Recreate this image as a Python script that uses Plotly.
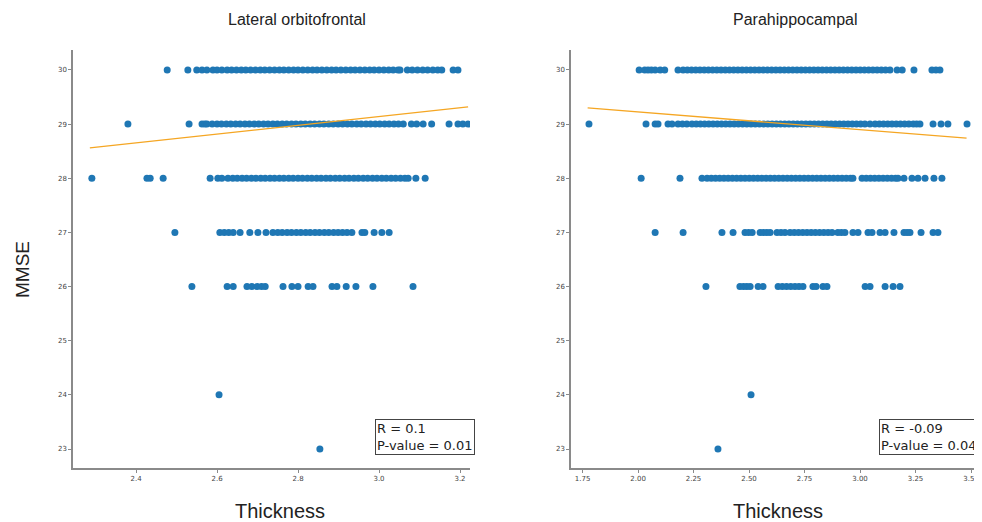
import plotly.graph_objects as go

# ---------------- data ----------------
panel_titles = ["Lateral orbitofrontal", "Parahippocampal"]
mmse_levels = [30, 29, 28, 27, 26, 24, 23]

lat_30 = [2.477, 2.528, 2.55, 2.563, 2.575, 2.59, 2.60, 2.612, 2.625, 2.636, 2.648, 2.66, 2.671, 2.683, 2.695,
          2.707, 2.718, 2.73, 2.742, 2.754, 2.765, 2.777, 2.789, 2.80, 2.812, 2.824, 2.836, 2.847, 2.859, 2.871,
          2.883, 2.894, 2.906, 2.918, 2.93, 2.941, 2.953, 2.965, 2.977, 2.988, 3.0, 3.012, 3.024, 3.035, 3.047,
          3.052, 3.07, 3.082, 3.095, 3.108, 3.12, 3.133, 3.145, 3.155, 3.183, 3.195]
lat_29 = [2.38, 2.531, 2.563, 2.57, 2.575, 2.588, 2.60, 2.611, 2.623, 2.634, 2.646, 2.657, 2.669, 2.68, 2.692,
          2.703, 2.715, 2.726, 2.738, 2.749, 2.761, 2.772, 2.784, 2.795, 2.807, 2.818, 2.83, 2.841, 2.853, 2.864,
          2.876, 2.887, 2.899, 2.91, 2.922, 2.933, 2.945, 2.956, 2.968, 2.979, 2.991, 3.002, 3.014, 3.025, 3.037,
          3.048, 3.06, 3.08, 3.093, 3.109, 3.13, 3.173, 3.195, 3.207, 3.22]
lat_28 = [2.291, 2.427, 2.435, 2.467, 2.583, 2.602, 2.612, 2.627, 2.639, 2.65, 2.662, 2.673, 2.685, 2.696, 2.708,
          2.719, 2.731, 2.742, 2.754, 2.765, 2.777, 2.788, 2.80, 2.811, 2.823, 2.834, 2.846, 2.857, 2.869, 2.88,
          2.892, 2.903, 2.915, 2.926, 2.938, 2.949, 2.961, 2.972, 2.984, 2.995, 3.007, 3.018, 3.03, 3.041, 3.053,
          3.064, 3.072, 3.091, 3.114]
lat_27 = [2.496, 2.607, 2.618, 2.629, 2.64, 2.657, 2.681, 2.701, 2.721, 2.738, 2.75, 2.761, 2.773, 2.784, 2.796,
          2.807, 2.819, 2.83, 2.842, 2.853, 2.865, 2.876, 2.888, 2.899, 2.91, 2.921, 2.933, 2.958, 2.965, 2.988,
          3.007, 3.025]
lat_26 = [2.538, 2.625, 2.64, 2.674, 2.686, 2.699, 2.71, 2.719, 2.763, 2.785, 2.80, 2.825, 2.837, 2.884, 2.896,
          2.919, 2.943, 2.985, 3.084]
lat_24 = [2.605]
lat_23 = [2.854]

par_30 = [2.005, 2.03, 2.045, 2.06, 2.077, 2.1, 2.12, 2.18, 2.203, 2.222, 2.241, 2.26, 2.279, 2.298, 2.317, 2.336,
          2.355, 2.374, 2.393, 2.412, 2.431, 2.45, 2.469, 2.488, 2.507, 2.526, 2.545, 2.564, 2.583, 2.602, 2.621,
          2.64, 2.659, 2.678, 2.697, 2.716, 2.735, 2.754, 2.773, 2.792, 2.811, 2.83, 2.849, 2.868, 2.887, 2.906,
          2.925, 2.944, 2.963, 2.982, 3.001, 3.02, 3.039, 3.058, 3.077, 3.096, 3.115, 3.135, 3.167, 3.19, 3.243,
          3.324, 3.342, 3.36]
par_29 = [1.779, 2.036, 2.077, 2.09, 2.135, 2.153, 2.18, 2.2, 2.22, 2.243, 2.262, 2.281, 2.30, 2.319, 2.338, 2.357,
          2.376, 2.395, 2.414, 2.433, 2.452, 2.471, 2.49, 2.509, 2.528, 2.547, 2.566, 2.585, 2.604, 2.623, 2.642,
          2.661, 2.68, 2.699, 2.718, 2.737, 2.756, 2.775, 2.794, 2.813, 2.832, 2.851, 2.87, 2.889, 2.908, 2.927,
          2.946, 2.965, 2.984, 3.003, 3.022, 3.045, 3.068, 3.087, 3.106, 3.125, 3.144, 3.163, 3.182, 3.201, 3.22,
          3.24, 3.255, 3.27, 3.329, 3.365, 3.396, 3.482]
par_28 = [2.014, 2.189, 2.288, 2.311, 2.33, 2.349, 2.368, 2.387, 2.406, 2.425, 2.444, 2.463, 2.482, 2.501, 2.52,
          2.539, 2.558, 2.577, 2.596, 2.615, 2.634, 2.653, 2.672, 2.691, 2.71, 2.729, 2.748, 2.767, 2.786, 2.805,
          2.824, 2.843, 2.862, 2.881, 2.90, 2.919, 2.938, 2.957, 2.968, 3.009, 3.028, 3.047, 3.066, 3.085, 3.104,
          3.123, 3.142, 3.16, 3.171, 3.198, 3.234, 3.261, 3.293, 3.333, 3.369]
par_27 = [2.077, 2.203, 2.378, 2.428, 2.482, 2.498, 2.514, 2.55, 2.565, 2.58, 2.595, 2.626, 2.644, 2.662, 2.685,
          2.704, 2.723, 2.742, 2.761, 2.78, 2.799, 2.818, 2.837, 2.856, 2.874, 2.9, 2.916, 2.932, 2.968, 2.991,
          3.036, 3.054, 3.09, 3.113, 3.153, 3.198, 3.212, 3.225, 3.275, 3.329, 3.351]
par_26 = [2.306, 2.459, 2.475, 2.49, 2.505, 2.541, 2.563, 2.631, 2.65, 2.669, 2.688, 2.707, 2.725, 2.743, 2.788,
          2.802, 2.833, 2.851, 3.023, 3.045, 3.113, 3.149, 3.18]
par_24 = [2.509]
par_23 = [2.36]

lat_fit_x = [2.286, 3.22]
lat_fit_y = [28.56, 29.32]
par_fit_x = [1.773, 3.48]
par_fit_y = [29.30, 28.74]

stats_text = ["R = 0.1<br>P-value = 0.01", "R = -0.09<br>P-value = 0.04"]
x_tick_vals_left = [2.4, 2.6, 2.8, 3.0, 3.2]
x_tick_text_left = ["2.4", "2.6", "2.8", "3.0", "3.2"]
x_tick_vals_right = [1.75, 2.00, 2.25, 2.50, 2.75, 3.00, 3.25, 3.50]
x_tick_text_right = ["1.75", "2.00", "2.25", "2.50", "2.75", "3.00", "3.25", "3.50"]
y_tick_vals = [23, 24, 25, 26, 27, 28, 29, 30]

# ---------------- figure ----------------
OFF = 8                      # page body margin
W, H = 982 - OFF, 522 - OFF
ML, MR, MT, MB = 73 - OFF, 1, 50 - OFF, H - (468 - OFF)
PW = W - ML - MR
PH = H - MT - MB

def px_x(p):                 # reference pixel -> paper x
    return (p - OFF - ML) / PW

def px_y(p):                 # reference pixel -> paper y
    return 1 - (p - OFF - MT) / PH

dot_color = "#1f77b4"
fit_color = "#F5A623"

fig = go.Figure()

lat_groups = [lat_30, lat_29, lat_28, lat_27, lat_26, lat_24, lat_23]
par_groups = [par_30, par_29, par_28, par_27, par_26, par_24, par_23]

lx, ly = [], []
for lvl, g in zip(mmse_levels, lat_groups):
    lx += g
    ly += [lvl] * len(g)
rx, ry = [], []
for lvl, g in zip(mmse_levels, par_groups):
    rx += g
    ry += [lvl] * len(g)

fig.add_trace(go.Scatter(x=lx, y=ly, mode="markers", xaxis="x", yaxis="y",
                         marker=dict(color=dot_color, size=7, line=dict(width=0)), showlegend=False))
fig.add_trace(go.Scatter(x=lat_fit_x, y=lat_fit_y, mode="lines", xaxis="x", yaxis="y",
                         line=dict(color=fit_color, width=1.3), showlegend=False))
fig.add_trace(go.Scatter(x=rx, y=ry, mode="markers", xaxis="x2", yaxis="y2",
                         marker=dict(color=dot_color, size=7, line=dict(width=0)), showlegend=False))
fig.add_trace(go.Scatter(x=par_fit_x, y=par_fit_y, mode="lines", xaxis="x2", yaxis="y2",
                         line=dict(color=fit_color, width=1.3), showlegend=False))

axis_common = dict(showgrid=False, zeroline=False, showline=True, linecolor="#8a8a8a", linewidth=1.5,
                   ticks="outside", ticklen=3, tickcolor="#8a8a8a", tickwidth=1,
                   tickfont=dict(family="DejaVu Sans", size=7, color="#444444"))

yr = [22.649, 30.369]
fig.update_layout(
    width=W, height=H,
    margin=dict(l=ML, r=MR, t=MT, b=MB),
    paper_bgcolor="white", plot_bgcolor="white",
    xaxis=dict(domain=[0, px_x(470)], range=[2.2444, 3.2247], tickvals=x_tick_vals_left,
               ticktext=x_tick_text_left, anchor="y", **axis_common),
    yaxis=dict(domain=[0, 1], range=yr, tickvals=y_tick_vals, anchor="x", **axis_common),
    xaxis2=dict(domain=[px_x(571), 1], range=[1.698, 3.545], tickvals=x_tick_vals_right,
                ticktext=x_tick_text_right, anchor="y2", **axis_common),
    yaxis2=dict(domain=[0, 1], range=yr, tickvals=y_tick_vals, anchor="x2", **axis_common),
)

title_font = dict(family="Liberation Sans", size=16, color="#222222")
label_font = dict(family="Liberation Sans", size=20, color="#222222")
ylabel_font = dict(family="Liberation Sans", size=19, color="#222222")
annos = [
    dict(text=panel_titles[0], x=297, y=20, font=title_font),
    dict(text=panel_titles[1], x=795, y=20, font=title_font),
    dict(text="Thickness", x=280, y=511, font=label_font),
    dict(text="Thickness", x=778, y=511, font=label_font),
    dict(text="MMSE", x=22, y=270, font=ylabel_font, textangle=-90),
]
for a in annos:
    fig.add_annotation(text=a["text"], xref="paper", yref="paper", x=px_x(a["x"]), y=px_y(a["y"]),
                       xanchor="center", yanchor="middle", showarrow=False, font=a["font"],
                       textangle=a.get("textangle", 0))

box_font = dict(family="DejaVu Sans", size=13, color="#222222")
for txt, xl in zip(stats_text, [375, 879]):
    fig.add_annotation(text=txt, xref="paper", yref="paper", x=px_x(xl), y=px_y(419),
                       xanchor="left", yanchor="top", align="left", showarrow=False, font=box_font,
                       bordercolor="#444444", borderwidth=1, borderpad=1, bgcolor="white")

fig.write_html("out.html")
